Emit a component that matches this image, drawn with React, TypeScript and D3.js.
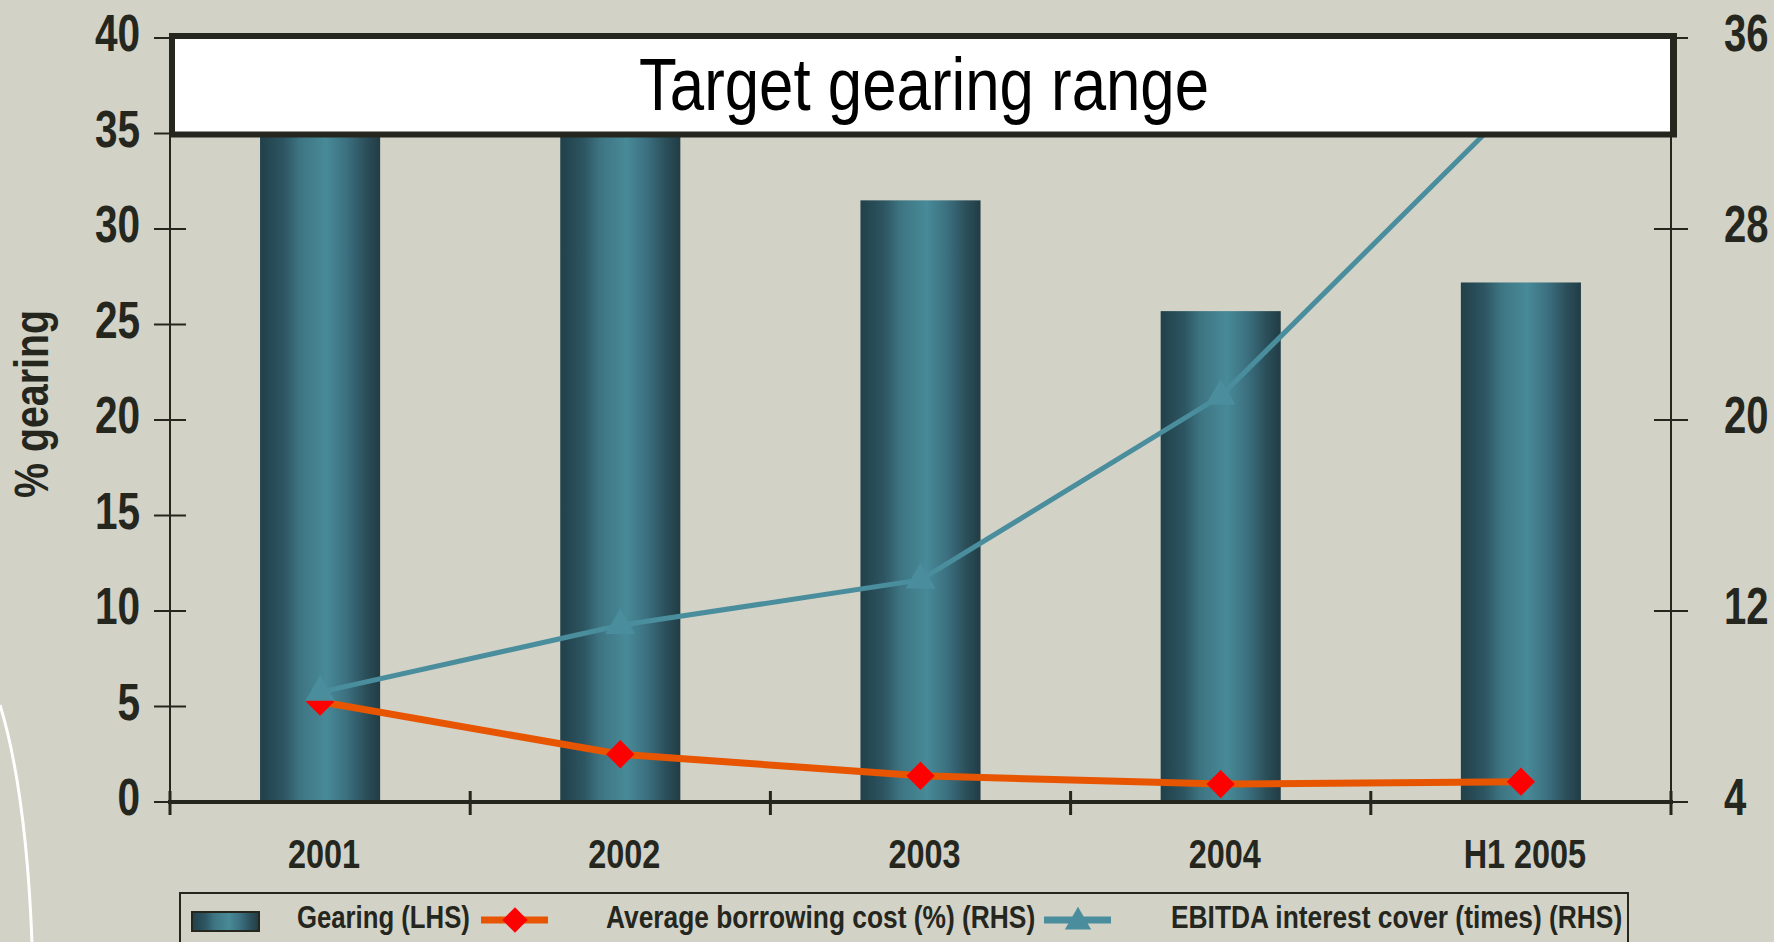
import React from "react";
import * as d3 from "d3";

const categories = ["2001", "2002", "2003", "2004", "H1 2005"];
const gearing = [37.5, 36.5, 31.5, 25.7, 27.2];
const borrowingCost = [8.2, 6.0, 5.1, 4.75, 4.85];
const interestCover = [8.6, 11.4, 13.3, 21.0, 33.5];
const leftTicks = [0, 5, 10, 15, 20, 25, 30, 35, 40];
const rightTicks = [4, 12, 20, 28, 36];
const targetRange = [35, 40];

const W = 1774;
const H = 942;
const BG = "#d2d2c6";
const INK = "#25271f";
const TEAL = "#4a8d9d";
const ORANGE = "#e85500";
const RED = "#ff0000";
const FONT = "'Liberation Sans', Arial, sans-serif";

// no narrow face installed, so squeeze the normal one horizontally
function NText(props: {
  x: number;
  y: number;
  size: number;
  anchor?: string;
  bold?: boolean;
  sx?: number;
  rotate?: number;
  fill?: string;
  children: React.ReactNode;
}) {
  const { x, y, size, anchor = "start", bold = true, sx = 0.8, rotate = 0, fill = INK } = props;
  return (
    <text
      transform={`translate(${x},${y}) rotate(${rotate}) scale(${sx},1)`}
      textAnchor={anchor}
      fontFamily={FONT}
      fontWeight={bold ? "bold" : "normal"}
      fontSize={size}
      fill={fill}
    >
      {props.children}
    </text>
  );
}

export default function App() {
  const x = d3.scaleBand<string>().domain(categories).range([170, 1671]).paddingInner(0.6).paddingOuter(0.3);
  const yL = d3.scaleLinear().domain([0, 40]).range([802, 38]);
  const yR = d3.scaleLinear().domain([4, 36]).range([802, 38]);

  const gap = (x.step() - x.bandwidth()) / 2;
  const xBounds = categories.map((c) => (x(c) as number) - gap).concat([(x(categories[4]) as number) + x.bandwidth() + gap]);
  const cx = (c: string) => (x(c) as number) + x.bandwidth() / 2;

  const rhsLine = d3.line<number>().x((_, i) => cx(categories[i])).y((d) => yR(d));
  const diamond = d3.symbol().type(d3.symbolSquare).size(400)();
  const triangle = d3.symbol().type(d3.symbolTriangle).size(380)();
  const legDiamond = d3.symbol().type(d3.symbolSquare).size(320)();
  const legTriangle = d3.symbol().type(d3.symbolTriangle).size(300)();

  return (
    <svg width={W} height={H} style={{ position: "absolute", left: 0, top: 0, display: "block", background: BG }}>
      <defs>
        <linearGradient id="barGrad" x1="0" x2="1" y1="0" y2="0">
          <stop offset="0" stopColor="#21404a" />
          <stop offset="0.2" stopColor="#2d5662" />
          <stop offset="0.33" stopColor="#3e7482" />
          <stop offset="0.55" stopColor="#488a98" />
          <stop offset="0.72" stopColor="#3c7080" />
          <stop offset="0.88" stopColor="#2b4f5a" />
          <stop offset="1" stopColor="#213c45" />
        </linearGradient>
      </defs>
      <rect width={W} height={H} fill={BG} />
      <path d="M0,705 Q26,790 32,942" fill="none" stroke="#ffffff" strokeWidth={3} />

      {/* bars */}
      {gearing.map((v, i) => (
        <rect key={i} x={x(categories[i])} y={yL(v)} width={x.bandwidth()} height={yL(0) - yL(v)} fill="url(#barGrad)" />
      ))}

      {/* average borrowing cost */}
      <path d={rhsLine(borrowingCost) || ""} fill="none" stroke={ORANGE} strokeWidth={7} />
      {borrowingCost.map((v, i) => (
        <path key={i} d={diamond || ""} transform={`translate(${cx(categories[i])},${yR(v)}) rotate(45)`} fill={RED} />
      ))}

      {/* EBITDA interest cover */}
      <path d={rhsLine(interestCover) || ""} fill="none" stroke={TEAL} strokeWidth={5} />
      {interestCover.map((v, i) => (
        <path key={i} d={triangle || ""} transform={`translate(${cx(categories[i])},${yR(v)})`} fill={TEAL} />
      ))}

      {/* target gearing range box */}
      <rect x={172} y={yL(targetRange[1]) - 2} width={1502} height={yL(targetRange[0]) - yL(targetRange[1]) + 3} fill="#ffffff" stroke={INK} strokeWidth={6} />
      <NText x={924} y={110} size={74} anchor="middle" bold={false} sx={0.835} fill="#000">
        Target gearing range
      </NText>

      {/* left axis */}
      <line x1={170} x2={170} y1={yL(40)} y2={yL(0)} stroke={INK} strokeWidth={2} />
      {leftTicks.map((t) => (
        <g key={t}>
          <line x1={154} x2={186} y1={yL(t)} y2={yL(t)} stroke={INK} strokeWidth={2} />
          <NText x={140} y={yL(t) + 13} size={52} anchor="end" sx={0.78}>
            {t}
          </NText>
        </g>
      ))}

      {/* right axis */}
      <line x1={1671} x2={1671} y1={yR(36)} y2={yR(4)} stroke={INK} strokeWidth={2} />
      {rightTicks.map((t) => (
        <g key={t}>
          <line x1={1654} x2={1688} y1={yR(t)} y2={yR(t)} stroke={INK} strokeWidth={2} />
          <NText x={1724} y={yR(t) + 13} size={52} sx={0.77}>
            {t}
          </NText>
        </g>
      ))}

      {/* x axis */}
      <line x1={168} x2={1673} y1={yL(0)} y2={yL(0)} stroke={INK} strokeWidth={4} />
      {xBounds.map((b, i) => (
        <line key={i} x1={b} x2={b} y1={791} y2={815} stroke={INK} strokeWidth={3} />
      ))}
      {categories.map((c) => (
        <NText key={c} x={cx(c) + 4} y={868} size={40} anchor="middle" sx={0.81}>
          {c}
        </NText>
      ))}

      <NText x={48} y={404} size={48} anchor="middle" rotate={-90} sx={0.82}>
        % gearing
      </NText>

      {/* legend */}
      <rect x={180} y={893} width={1448} height={80} fill="none" stroke={INK} strokeWidth={2} />
      <rect x={192} y={912} width={67} height={19} fill="url(#barGrad)" stroke={INK} strokeWidth={2} />
      <NText x={297} y={928} size={31} sx={0.83}>
        Gearing (LHS)
      </NText>
      <line x1={481} x2={548} y1={920} y2={920} stroke={ORANGE} strokeWidth={7} />
      <path d={legDiamond || ""} transform="translate(515,920) rotate(45)" fill={RED} />
      <NText x={606} y={928} size={31} sx={0.85}>
        Average borrowing cost (%) (RHS)
      </NText>
      <line x1={1044} x2={1111} y1={920} y2={920} stroke={TEAL} strokeWidth={7} />
      <path d={legTriangle || ""} transform="translate(1078,922)" fill={TEAL} />
      <NText x={1171} y={928} size={31} sx={0.85}>
        EBITDA interest cover (times) (RHS)
      </NText>
    </svg>
  );
}
